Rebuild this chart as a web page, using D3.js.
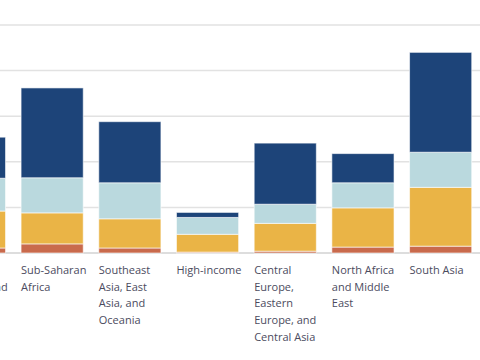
<!DOCTYPE html>
<html><head><meta charset="utf-8">
<script src="https://cdn.jsdelivr.net/npm/d3@7"></script>
<style>body{margin:0;background:#fff;overflow:hidden}svg{display:block}</style>
</head><body>
<svg id="c" width="480" height="360"></svg>
<script>
const categories = ["Latin America and Caribbean","Sub-Saharan Africa","Southeast Asia, East Asia, and Oceania","High-income","Central Europe, Eastern Europe, and Central Asia","North Africa and Middle East","South Asia"];
const seriesNames = ["Series 1","Series 2","Series 3","Series 4"];
const series1 = [0.11, 0.20, 0.11, 0.02, 0.04, 0.13, 0.15];
const series2 = [0.81, 0.68, 0.64, 0.39, 0.61, 0.86, 1.29];
const series3 = [0.72, 0.77, 0.79, 0.37, 0.42, 0.55, 0.77];
const series4 = [0.90, 1.97, 1.34, 0.11, 1.34, 0.64, 2.19];
const colors = ["#c96a4c","#eab446","#bad9de","#1d4479"];
const yTicks = [0,1,2,3,4,5];

const svg = d3.select("#c");
const x = d3.scaleBand().domain(categories).range([-64.4, 479.5]).paddingInner(0.2).paddingOuter(0.1);
const y = d3.scaleLinear().domain([0,5]).range([253,25]);

const grid = svg.append("g");
grid.selectAll("line").data(yTicks).join("line")
  .attr("x1",0).attr("x2",480)
  .attr("y1",d=>y(d)).attr("y2",d=>y(d))
  .attr("stroke",d=>d===0?"#d2d2d2":"#e2e2e2").attr("stroke-width",1.5);

const table = categories.map((c,i)=>({cat:c, s0:series1[i], s1:series2[i], s2:series3[i], s3:series4[i]}));
const stack = d3.stack().keys(["s0","s1","s2","s3"])(table);

svg.append("g").selectAll("g").data(stack).join("g")
  .attr("fill",(d,i)=>colors[i])
  .selectAll("rect").data(d=>d).join("rect")
  .attr("x",d=>x(d.data.cat)).attr("width",x.bandwidth())
  .attr("y",d=>y(d[1])).attr("height",d=>y(d[0])-y(d[1]))
  .attr("stroke","#ffffff").attr("stroke-opacity",0.6).attr("stroke-width",1);

const labels = svg.append("g").attr("font-family","'Open Sans', sans-serif").attr("font-size",11).attr("fill","#4b4b5e");
categories.forEach(c=>{
  const t = labels.append("text").attr("x",x(c)).attr("y",274);
  const words = c.split(" ");
  let line = [], lineNo = 0;
  let ts = t.append("tspan").attr("x",x(c)).attr("dy",0);
  words.forEach(w=>{
    line.push(w);
    ts.text(line.join(" "));
    if (ts.node().getComputedTextLength() > 67 && line.length>1) {
      line.pop(); ts.text(line.join(" "));
      line=[w]; lineNo++;
      ts = t.append("tspan").attr("x",x(c)).attr("dy",16.7).text(w);
    }
  });
});
</script>
</body></html>
